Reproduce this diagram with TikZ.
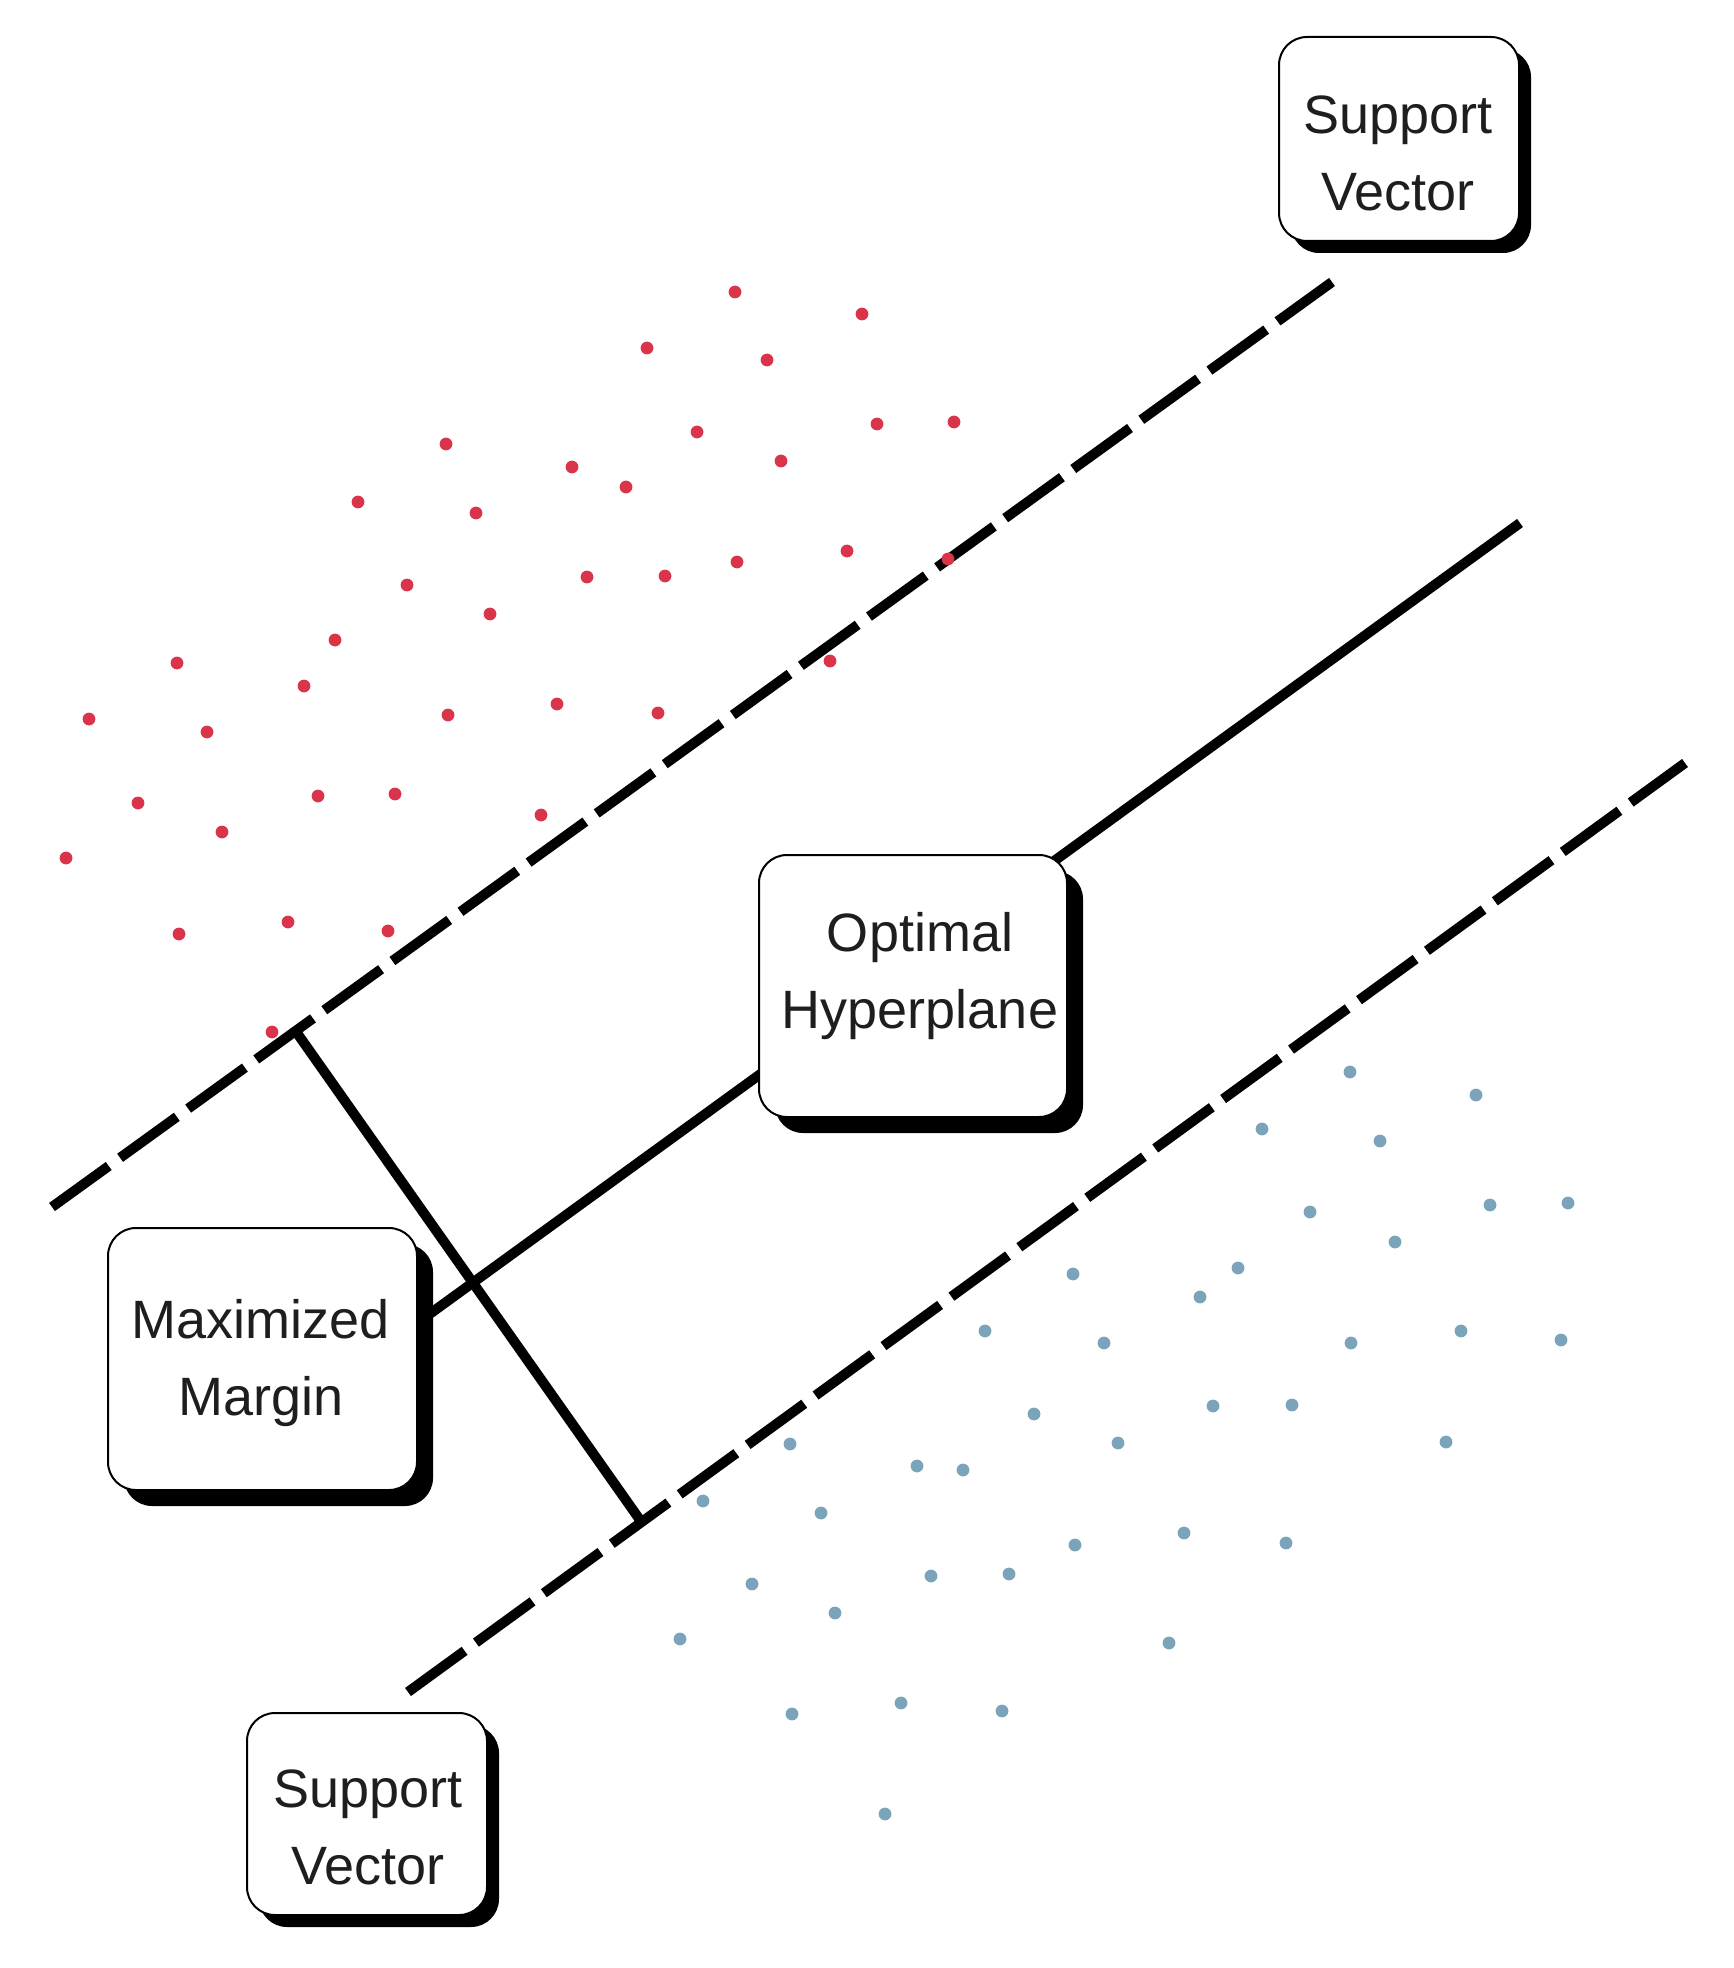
\documentclass[tikz,border=0pt]{standalone}
\usepackage{fontspec}
\setmainfont{Liberation Sans}
\usetikzlibrary{shadows}
\definecolor{dotred}{HTML}{D9344A}
\definecolor{dotblue}{HTML}{7BA3BA}
\definecolor{txt}{HTML}{1E1E1E}
\tikzset{
  svbox/.style={draw=black, line width=1pt, fill=white, rounded corners=14pt, inner sep=0pt,
    drop shadow={shadow xshift=6pt, shadow yshift=-6pt, opacity=1, fill=black}},
  bigbox/.style={draw=black, line width=1pt, fill=white, rounded corners=14pt, inner sep=0pt,
    drop shadow={shadow xshift=8pt, shadow yshift=-8pt, opacity=1, fill=black}},
  % two-line labels: box spans from cap top of line 1 to baseline of line 2
  labeltext/.style={font=\fontsize{27pt}{38.5pt}\selectfont, text=txt, align=center,
    text height=57.8pt, text depth=0pt, inner sep=0pt},
  marginline/.style={line width=5pt, black},
  dashline/.style={line width=5pt, black, dash pattern=on 35pt off 7pt},
  reddot/.style={fill=dotred},
  bluedot/.style={fill=dotblue}
}
\begin{document}
\begin{tikzpicture}[x=0.5pt,y=-0.5pt]
\fill[white] (0,0) rectangle (1733,1968);
\useasboundingbox (0,0) rectangle (1733,1968);

% line end points
\coordinate (u1) at (52,1207);
\coordinate (u2) at (1332,282);
\coordinate (l1) at (408,1692);
\coordinate (l2) at (1685,763);
\coordinate (h1) at (380,1350);
\coordinate (h2) at (1520,523);
\coordinate (pA) at (297,1033);
\coordinate (pB) at (640,1520);

% lines
\draw[dashline] (u1) -- (u2);
\draw[dashline] (l1) -- (l2);
\draw[marginline] (h1) -- (h2);
\draw[marginline] (pA) -- (pB);

% boxes
\node[svbox, minimum width=120pt, minimum height=102pt] (sv1box) at (1399,139) {};
\node[labeltext] (sv1) at (1398,152.5) {Support\\Vector};
\node[bigbox, minimum width=154pt, minimum height=131pt] (optbox) at (913,986) {};
\node[labeltext] (opt) at (920,970.5) {Optimal\\Hyperplane};
\node[bigbox, minimum width=154.5pt, minimum height=131pt] (mmbox) at (262.5,1359) {};
\node[labeltext] (mm) at (261,1357.5) {Maximized\\Margin};
\node[svbox, minimum width=120pt, minimum height=101pt] (sv2box) at (367,1814) {};
\node[labeltext] (sv2) at (368,1826.5) {Support\\Vector};

% red points
\foreach \px/\py in {735/292, 862/314, 647/348, 767/360, 697/432, 877/424, 954/422,
  446/444, 572/467, 626/487, 781/461, 358/502, 476/513, 407/585, 587/577, 665/576,
  737/562, 847/551, 948/559, 490/614, 335/640, 177/663, 304/686, 830/661, 89/719,
  207/732, 448/715, 557/704, 658/713, 138/803, 318/796, 395/794, 222/832, 541/815,
  66/858, 179/934, 288/922, 388/931, 272/1032}
  \fill[reddot] (\px,\py) circle[radius=3.2pt];

% blue points
\foreach \px/\py in {1350/1072, 1476/1095, 1262/1129, 1380/1141, 1310/1212, 1490/1205,
  1568/1203, 1395/1242, 1238/1268, 1073/1274, 1200/1297, 985/1331, 1104/1343,
  1351/1343, 1461/1331, 1561/1340, 1034/1414, 1213/1406, 1292/1405, 790/1444,
  1118/1443, 1446/1442, 917/1466, 963/1470, 703/1501, 821/1513, 1184/1533,
  1286/1543, 1075/1545, 752/1584, 931/1576, 1009/1574, 835/1613, 680/1639,
  1169/1643, 792/1714, 901/1703, 1002/1711, 885/1814}
  \fill[bluedot] (\px,\py) circle[radius=3.2pt];
\end{tikzpicture}
\end{document}
